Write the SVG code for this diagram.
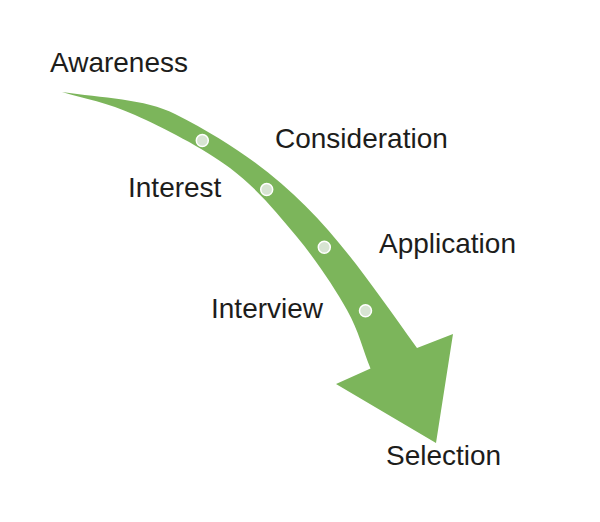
<svg xmlns="http://www.w3.org/2000/svg" width="600" height="522" viewBox="0 0 600 522">
<style>
.lbl{font-family:"Liberation Sans",Arial,sans-serif;font-size:28px;fill:#1d1d1b}
.dot{fill:#d7e4d2;stroke:#ffffff;stroke-width:1.5}
.arrow{fill:#7cb55b}
</style>
<rect width="600" height="522" fill="#ffffff"/>
<g id="connectors">
<path id="funnel-arrow" class="arrow" d="M62,92 C102,98 145,98.8 175,114 C299.6,177 341.6,242.7 417,348 L453,334 L436,443 L336,384 L370.5,368.5 C362.5,349 359.25,331.9 347,310 C334.75,288.1 316.5,260.7 297,237 C277.5,213.3 257,188.3 230,168 C203,147.7 163,127.7 135,115 C107,102.3 85,99 62,92 Z"/>
</g>
<g id="dots">
<circle class="dot" cx="202.3" cy="140.5" r="6"/>
<circle class="dot" cx="266.7" cy="189.5" r="6"/>
<circle class="dot" cx="324.3" cy="247.3" r="6"/>
<circle class="dot" cx="365.5" cy="310.7" r="6"/>
</g>
<g id="awareness"><text class="lbl" x="50" y="72">Awareness</text></g>
<g id="consideration"><text class="lbl" x="275" y="148">Consideration</text></g>
<g id="interest"><text class="lbl" x="128" y="197">Interest</text></g>
<g id="application"><text class="lbl" x="379" y="253">Application</text></g>
<g id="interview"><text class="lbl" x="211" y="318">Interview</text></g>
<g id="selection"><text class="lbl" x="386" y="465">Selection</text></g>
</svg>
